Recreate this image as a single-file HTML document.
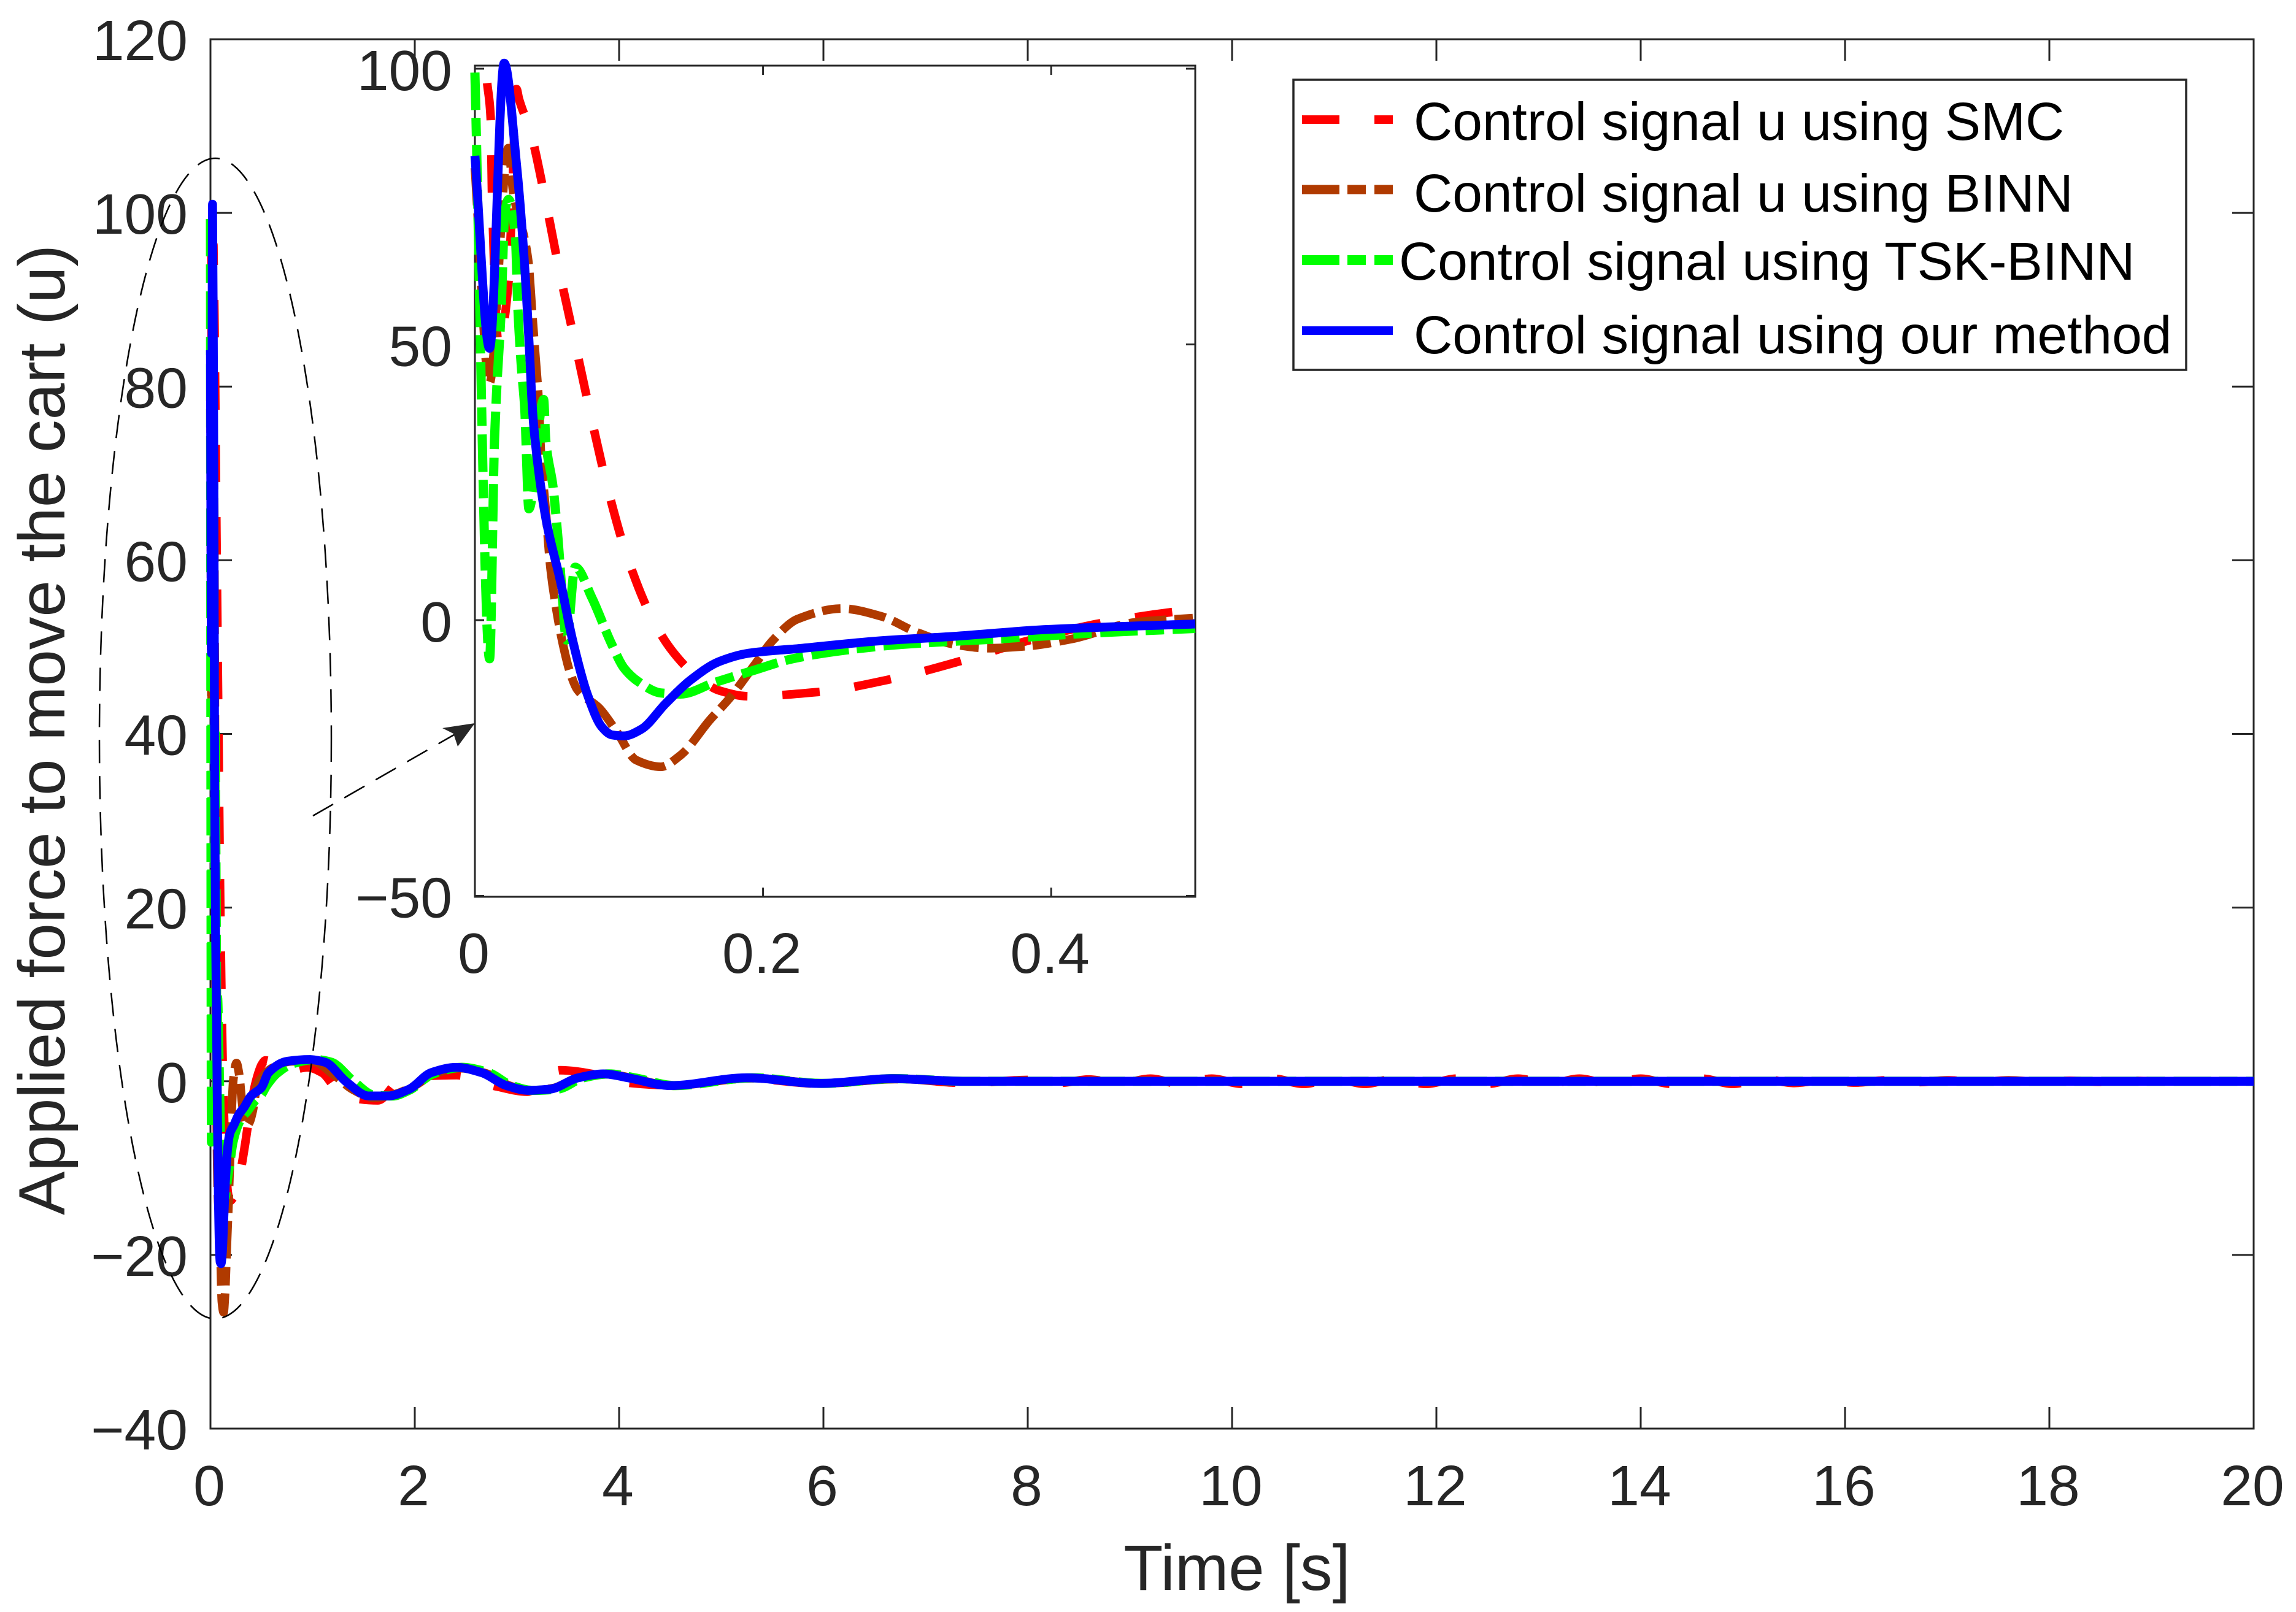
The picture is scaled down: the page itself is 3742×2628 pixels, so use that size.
<!DOCTYPE html>
<html lang="en">
<head>
<meta charset="utf-8">
<title>Applied force to move the cart</title>
<style>
html,body{margin:0;padding:0;background:#fff;}
svg{display:block;font-family:"Liberation Sans",Arial,sans-serif;}
</style>
</head>
<body>
<svg id="chart" xmlns="http://www.w3.org/2000/svg" width="3742" height="2628" viewBox="0 0 3742 2628">
  <rect x="0" y="0" width="3742" height="2628" fill="#fff"/>
  <g id="main-axes"></g>
  <g id="main-series"></g>
  <ellipse cx="351" cy="1204" rx="189" ry="946" fill="none" stroke="#000" stroke-width="2.5" stroke-dasharray="38 21"/>
  <line x1="510" y1="1330" x2="745" y2="1195" stroke="#000" stroke-width="2.5" stroke-dasharray="38 21"/>
  <polygon points="721,1187 774,1179 746,1217 739,1196" fill="#262626"/>
  <g id="inset-axes"></g>
  <g id="inset-series"></g>

  <text x="2016" y="2592" font-size="105" text-anchor="middle" fill="#262626">Time [s]</text>
  <text transform="translate(105,1981) rotate(-90)" font-size="107" fill="#262626">Applied force to move the cart (u)</text>

  <g>
    <rect x="2108" y="130" width="1455" height="473" fill="#fff" stroke="#262626" stroke-width="3.5"/>
    <g>
      <line x1="2122" y1="195" x2="2270" y2="195" stroke="#ff0000" stroke-width="14" stroke-dasharray="61 57"/>
      <text x="2304" y="228" font-size="87.5" fill="#000">Control signal u using SMC</text>
    </g>
    <g>
      <line x1="2122" y1="309" x2="2270" y2="309" stroke="#b03a00" stroke-width="15" stroke-dasharray="61 13 30 14"/>
      <text x="2304" y="345" font-size="87.5" fill="#000">Control signal u using BINN</text>
    </g>
    <g>
      <line x1="2122" y1="424" x2="2270" y2="424" stroke="#00ff00" stroke-width="16" stroke-dasharray="61 13 30 14"/>
      <text x="2280" y="456" font-size="87.5" fill="#000">Control signal using TSK-BINN</text>
    </g>
    <g>
      <line x1="2122" y1="539" x2="2270" y2="539" stroke="#0000ff" stroke-width="14"/>
      <text x="2304" y="576" font-size="87.5" fill="#000">Control signal using our method</text>
    </g>
  </g>
</svg>
<script>
// ---- data ----
const mainXTicks = [0,2,4,6,8,10,12,14,16,18,20];
const mainYTicks = [-40,-20,0,20,40,60,80,100,120];
const insetXTicks = [0,0.2,0.4];
const insetYTicks = [-50,0,50,100];

const redT = [0.0085,0.011,0.0118,0.0165,0.0232,0.0256,0.0289,0.0305,0.0387,0.0493,0.059,0.0696,0.0802,0.0916,0.1052,0.124,0.1376,0.153,0.17,0.19,0.2394,0.2887,0.336,0.38,0.4314,0.482,0.5,0.538,0.75,0.95,1.09,1.3,1.64,1.856,2.1,2.41,2.8,3.1,3.42,3.8,4.03,4.5,5.25,6,6.7,7.4,8,8.3,8.6,8.9,9.2,9.5,9.8,10.1,10.4,10.7,11,11.3,11.6,11.9,12.2,12.5,12.8,13.1,13.4,13.7,14,14.3,14.6,14.9,15.2,15.5,15.8,16.1,16.4,16.7,17,17.3,17.6,17.9,18.2,18.5,18.8,19.1,19.4,19.7,20];
const redV = [97.4,90.8,78,50,61,74.6,96.3,94.6,88.4,75.7,62.9,50.2,37.4,24.5,11.9,-0.2,-5.8,-10,-12.8,-13.8,-13,-10.7,-7.5,-4,-0.7,1.4,1.9,2.4,1.2,1.6,1,-1.7,-2.2,0.1,0.6,0.7,-0.6,-1.2,1.27,0.7,-0.1,-0.45,0.3,-0.3,0.3,-0.2,0.15,-0.2,0.2,-0.25,0.3,-0.3,0.3,-0.3,0.3,-0.3,0.3,-0.3,0.3,-0.3,0.3,-0.3,0.3,-0.3,0.3,-0.3,0.3,-0.3,0.3,-0.3,0.25,-0.2,0.15,-0.15,0.1,-0.1,0.1,-0.1,0.1,-0.05,0.05,-0.05,0.05,0,0,0,0];

const brownT = [0,0.0101,0.0232,0.0264,0.0371,0.0395,0.0419,0.0443,0.0458,0.0492,0.0526,0.056,0.0611,0.0662,0.0711,0.0865,0.0984,0.112,0.129,0.1427,0.1631,0.1766,0.1936,0.207,0.224,0.2547,0.282,0.3058,0.3328,0.3565,0.3837,0.4144,0.4583,0.5,0.6,0.8,1.0,1.2,1.4,1.6,1.8,2,2.2,2.45,2.7,2.95,3.15,3.35,3.6,3.9,4.15,4.5,5.3,6,6.7,7.4,20];
const brownV = [82,43,85.6,78,65,56.7,48.2,39.7,30.5,19.8,9.1,2.8,-4.4,-9.6,-12.6,-16,-20.2,-25.4,-26.6,-24.5,-18.1,-14.2,-8.3,-3.6,0.2,2.1,0.7,-2.1,-4.4,-5.1,-4.7,-3.4,-0.4,0.4,1.5,2.3,2.3,0.8,-1,-1.9,-1.5,-0.5,0.9,1.5,0.9,-0.6,-1.05,-0.8,0.4,0.8,0.3,-0.5,0.35,-0.25,0.25,0,0];

const greenT = [0,0.0102,0.0136,0.0149,0.0183,0.0207,0.0234,0.0281,0.0298,0.0322,0.0345,0.0375,0.0477,0.0492,0.0543,0.0577,0.0611,0.0635,0.0696,0.0813,0.095,0.1035,0.1137,0.129,0.1427,0.1665,0.1936,0.2206,0.2615,0.2956,0.3633,0.4314,0.5,0.55,0.65,0.8,1.02,1.18,1.4,1.6,1.78,1.95,2.17,2.46,2.72,2.95,3.15,3.4,3.65,3.9,4.15,4.55,5.3,6,6.7,7.4,20];
const greenV = [99.3,-7,32.6,40.6,56.7,73.7,76.3,69.5,56.7,46.1,38.8,20.2,40,32.6,24,14.7,2.8,-3.6,9.6,4,-4.4,-8.7,-11.2,-13.2,-13.4,-11.3,-9.1,-7,-5.3,-4.4,-3.4,-2.3,-1.5,-0.5,0.9,2,2.5,2.2,0,-1.6,-1.7,-1,0.8,1.6,1,-0.5,-1.05,-0.9,0.4,0.85,0.4,-0.5,0.4,-0.25,0.3,0,0];

const blueT = [0,0.0102,0.0203,0.029,0.0337,0.038,0.0396,0.041,0.0492,0.0594,0.0678,0.078,0.0882,0.095,0.1035,0.1154,0.1325,0.1495,0.1697,0.19,0.2274,0.2785,0.329,0.397,0.5,0.569,0.752,0.967,1.12,1.333,1.55,1.733,1.947,2.162,2.408,2.653,2.898,3.11,3.327,3.6,3.848,4.09,4.5,5.25,5.97,6.67,7.39,8,20];
const blueV = [84.2,49.3,101,82.3,67.4,48.3,39.7,34.7,18.5,7,-3.6,-13.4,-19.4,-20.8,-21,-19.8,-15.1,-10.9,-7.5,-6,-5.1,-3.8,-3,-1.7,-0.7,1,2.3,2.5,2.2,-0.1,-1.7,-1.7,-0.9,1,1.6,1,-0.5,-1.05,-0.9,0.4,0.85,0.4,-0.5,0.4,-0.25,0.3,0,0,0];

// ---- axis functions ----
const NS = 'http://www.w3.org/2000/svg';
const AXIS = '#262626';
function xMain(t){ return 343 + t * (3673 - 343) / 20; }
function yMain(v){ return 64 + (120 - v) * (2329 - 64) / 160; }
function xInset(t){ return 774 + t * 2348; }
function yInset(v){ return 1011 - v * 8.99; }

function make(tag, attrs, parent){
  const el = document.createElementNS(NS, tag);
  for (const k in attrs) el.setAttribute(k, attrs[k]);
  parent.appendChild(el);
  return el;
}
// Monotone cubic through the mapped data points (keeps peaks, smooths the curve)
function pathFor(ts, vs, xf, yf, tMax){
  const xs = [], ys = [];
  for (let i = 0; i < ts.length; i++){
    if (ts[i] > tMax) break;
    xs.push(xf(ts[i]));
    ys.push(yf(vs[i]));
  }
  const n = xs.length;
  const h = [], s = [], m = [];
  for (let i = 0; i < n - 1; i++){
    h.push(xs[i+1] - xs[i]);
    s.push((ys[i+1] - ys[i]) / (xs[i+1] - xs[i]));
  }
  for (let i = 0; i < n; i++){
    if (i === 0) m.push(s[0]);
    else if (i === n - 1) m.push(s[n-2]);
    else if (s[i-1] * s[i] <= 0) m.push(0);
    else {
      const w1 = 2 * h[i] + h[i-1], w2 = h[i] + 2 * h[i-1];
      m.push((w1 + w2) / (w1 / s[i-1] + w2 / s[i]));
    }
  }
  let d = 'M' + xs[0].toFixed(1) + ' ' + ys[0].toFixed(1);
  for (let i = 0; i < n - 1; i++){
    const dx = h[i] / 3;
    d += 'C' + (xs[i] + dx).toFixed(1) + ' ' + (ys[i] + m[i] * dx).toFixed(1) + ' ' +
         (xs[i+1] - dx).toFixed(1) + ' ' + (ys[i+1] - m[i+1] * dx).toFixed(1) + ' ' +
         xs[i+1].toFixed(1) + ' ' + ys[i+1].toFixed(1);
  }
  return d;
}
function tickLabel(v){ return String(v).replace('-', '\u2212'); }

// ---- axes ----
function drawAxes(g, cfg){
  const box = make('rect', {x:cfg.left, y:cfg.top, width:cfg.right-cfg.left, height:cfg.bottom-cfg.top, fill:'#fff', stroke:AXIS, 'stroke-width':3}, g);
  
  
  cfg.xTicks.forEach(function(t){
    const x = cfg.xf(t);
    const tb = make('line', {x1:x, x2:x, y1:cfg.bottom, y2:cfg.bottom-cfg.len, stroke:AXIS, 'stroke-width':3}, g);
    
    
    const tt = make('line', {x1:x, x2:x, y1:cfg.top, y2:cfg.top+cfg.len, stroke:AXIS, 'stroke-width':3}, g);
    
    
    const lab = make('text', {x:x-2, y:cfg.xLabelY, 'font-size':cfg.fs, 'text-anchor':'middle', fill:AXIS}, g);
    lab.textContent = tickLabel(t);
    
    
  });
  cfg.yTicks.forEach(function(v){
    const y = cfg.yf(v);
    const tl = make('line', {x1:cfg.left, x2:cfg.left+cfg.len, y1:y, y2:y, stroke:AXIS, 'stroke-width':3}, g);
    
    
    const tr = make('line', {x1:cfg.right, x2:cfg.right-cfg.len, y1:y, y2:y, stroke:AXIS, 'stroke-width':3}, g);
    
    
    const lab = make('text', {x:cfg.yLabelX, y:y+cfg.yLabelDy, 'font-size':cfg.fs, 'text-anchor':'end', fill:AXIS}, g);
    lab.textContent = tickLabel(v);
    
    
  });
}

// ---- series ----
function drawSeries(g, prefix, xf, yf, tMax){
  const red = make('path', {d:pathFor(redT, redV, xf, yf, tMax), fill:'none', stroke:'#ff0000', 'stroke-width':14, 'stroke-dasharray':'61 57', 'stroke-linejoin':'round'}, g);
  
  
  const brown = make('path', {d:pathFor(brownT, brownV, xf, yf, tMax), fill:'none', stroke:'#b03a00', 'stroke-width':14, 'stroke-dasharray':'61 13 30 14', 'stroke-linejoin':'round'}, g);
  
  
  const green = make('path', {d:pathFor(greenT, greenV, xf, yf, tMax), fill:'none', stroke:'#00ff00', 'stroke-width':15, 'stroke-dasharray':'61 13 30 14', 'stroke-linejoin':'round'}, g);
  
  
  const blue = make('path', {d:pathFor(blueT, blueV, xf, yf, tMax), fill:'none', stroke:'#0000ff', 'stroke-width':14.5, 'stroke-linejoin':'round'}, g);
  
  
}

drawAxes(document.getElementById('main-axes'), {
  prefix:'main', left:343, right:3673, top:64, bottom:2329, len:35, fs:93,
  xf:xMain, yf:yMain, xTicks:mainXTicks, yTicks:mainYTicks, xLabelY:2454, yLabelX:306, yLabelDy:34
});
drawSeries(document.getElementById('main-series'), 'main', xMain, yMain, 20);
drawAxes(document.getElementById('inset-axes'), {
  prefix:'inset', left:774, right:1948, top:107, bottom:1462, len:15, fs:93,
  xf:xInset, yf:yInset, xTicks:insetXTicks, yTicks:insetYTicks, xLabelY:1586, yLabelX:737, yLabelDy:35
});
drawSeries(document.getElementById('inset-series'), 'inset', xInset, yInset, 0.5);
</script>
</body>
</html>
